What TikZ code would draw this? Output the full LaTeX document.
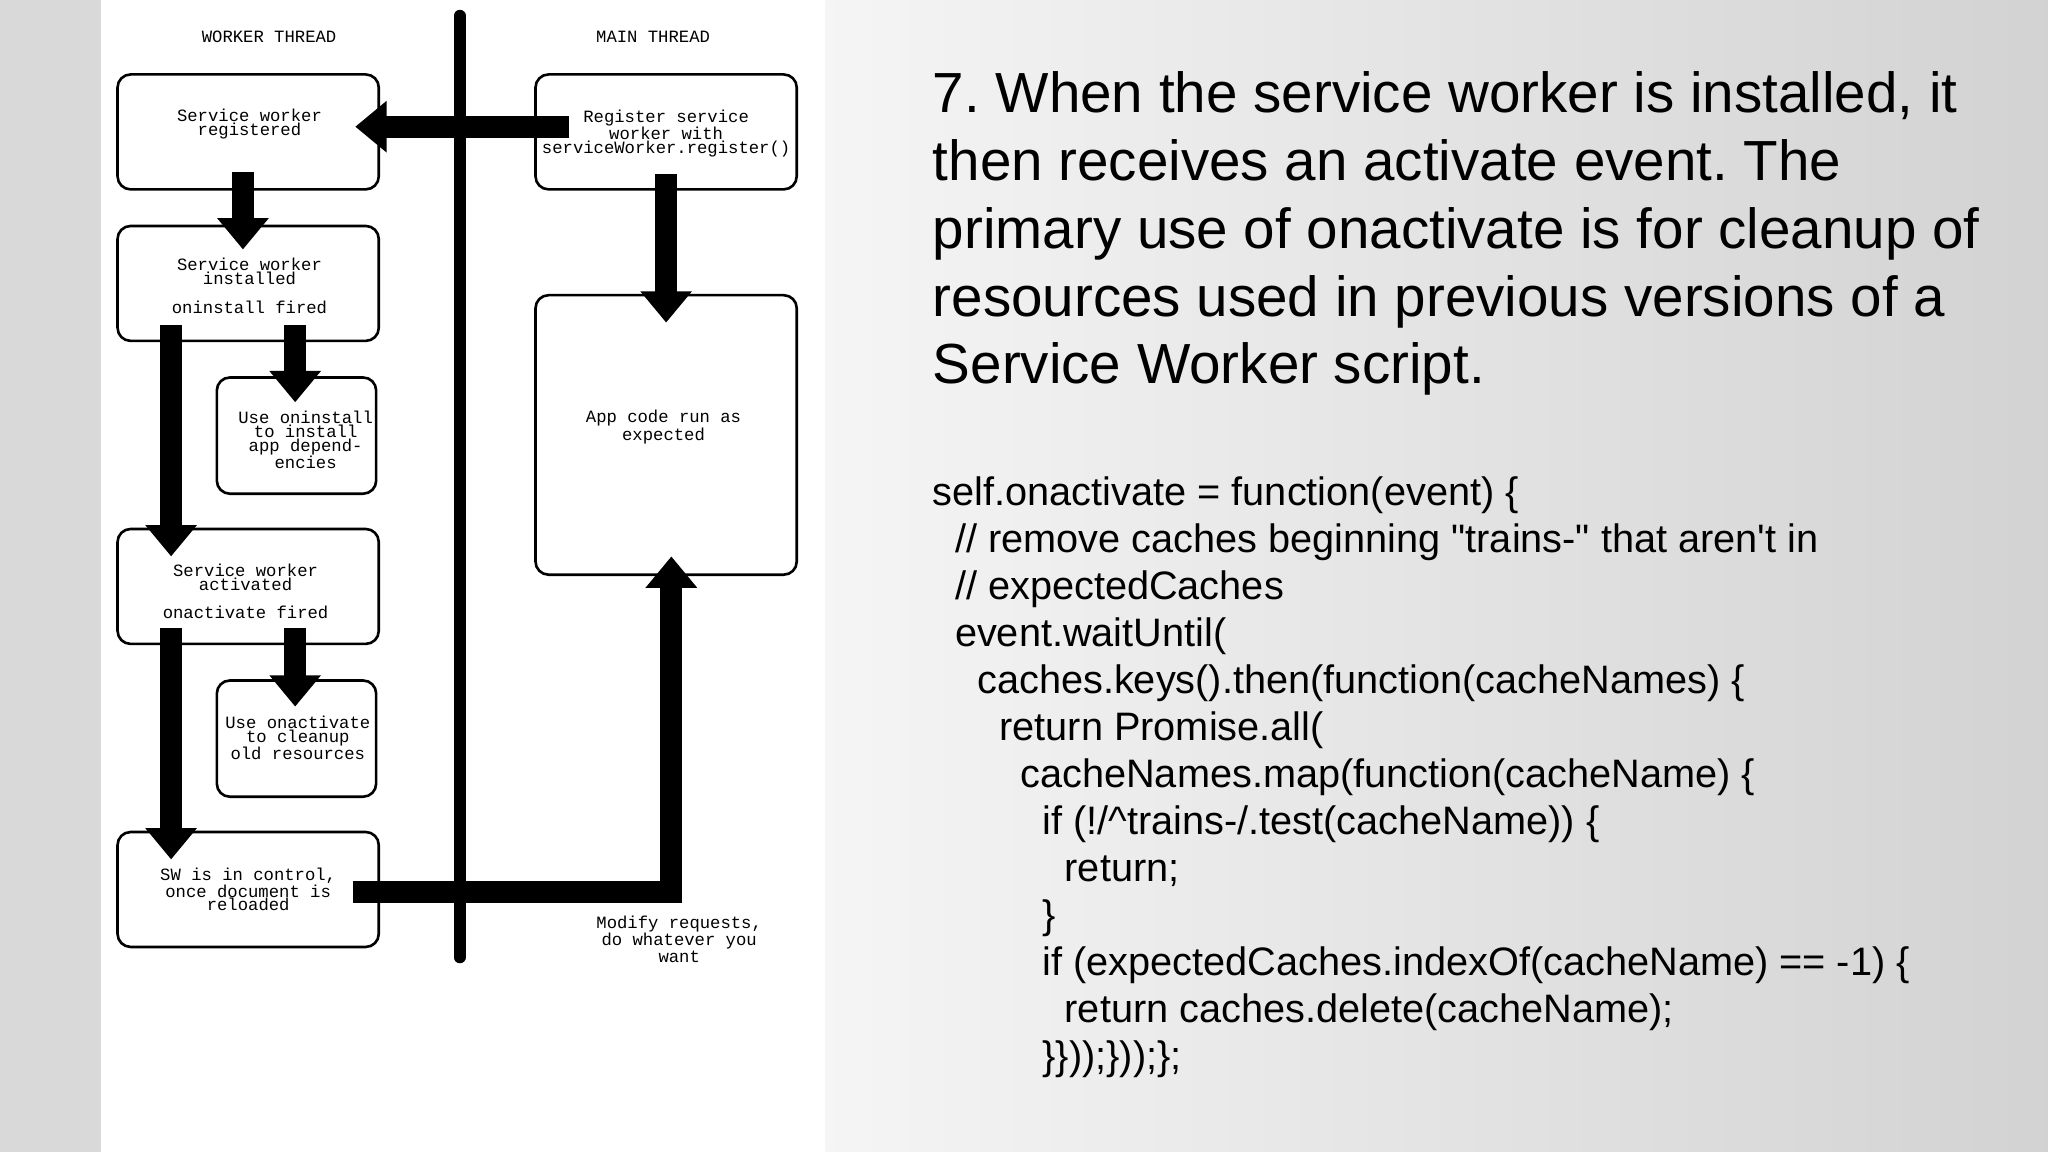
\documentclass[tikz,border=0pt]{standalone}
\usepackage{fontspec}
\setmainfont{Liberation Sans}[Ligatures=TeXOff]
\newfontfamily\dmono{Liberation Mono}
\usetikzlibrary{arrows.meta}
\frenchspacing
\begin{document}
\begin{tikzpicture}[x=1pt,y=-1pt,
  box/.style={draw,line width=2pt,rounded corners=10pt},
  lbl/.style={font=\dmono\fontsize{13.2}{10.5}\selectfont,align=center,inner sep=0pt},
  big/.style={line width=17pt,-{Triangle[width=38pt,length=24pt]}},
  ttl/.style={anchor=base west,font=\fontsize{43.3}{50}\selectfont,inner sep=0pt},
  code/.style={anchor=base west,font=\fontsize{30.4}{36}\selectfont,inner sep=0pt}]
\useasboundingbox (0,0) rectangle (1568,882);
\fill[gray!30] (0,0) rectangle (77,882);
\fill[white] (77,0) rectangle (632,882);
\shade[left color=gray!8,right color=gray!35] (632,0) rectangle (1568,882);
% headings
\node[lbl] (wt) at (206,28) {WORKER THREAD};
\node[lbl] (mt) at (500,28) {MAIN THREAD};
\coordinate (vt) at (352,12); \coordinate (vb) at (352,733);
\draw[line width=9pt,line cap=round] (vt) -- (vb);
% boxes
\draw[box] (90,57) rectangle (290,145);
\node[lbl] (b1) at (191,95) {Service worker\\registered};
\draw[box] (410,57) rectangle (610,145);
\node[lbl] (r) at (510,102) {Register service\\worker with\\serviceWorker.register()};
\draw[box] (90,173) rectangle (290,261);
\node[lbl] (b2) at (191,208) {Service worker\\installed};
\node[lbl] (b2b) at (191,235) {oninstall fired};
\draw[box] (166,289) rectangle (288,378);
\node[lbl] (b3) at (234,337) {Use oninstall\\to install\\app depend-\\encies};
\draw[box] (90,405) rectangle (290,493);
\node[lbl] (b4) at (188,442) {Service worker\\activated};
\node[lbl] (b4b) at (188,469) {onactivate fired};
\draw[box] (166,521) rectangle (288,610);
\node[lbl] (b5) at (228,565) {Use onactivate\\to cleanup\\old resources};
\draw[box] (90,637) rectangle (290,725);
\node[lbl] (b6) at (190,681) {SW is in control,\\once document is\\reloaded};
\draw[box] (410,226) rectangle (610,440);
\node[lbl] (m) at (508,327) {App code run as\\expected};
\node[lbl] (mod) at (520,719) {Modify requests,\\do whatever you\\want};
% arrows
\coordinate (a1s) at (436,97); \coordinate (a1e) at (272,97);
\draw[big] (a1s) -- (a1e);
\coordinate (a2s) at (186,132); \coordinate (a2e) at (186,191);
\draw[big] (a2s) -- (a2e);
\coordinate (a3s) at (226,249); \coordinate (a3e) at (226,308);
\draw[big] (a3s) -- (a3e);
\coordinate (a4s) at (131,249); \coordinate (a4e) at (131,426);
\draw[big] (a4s) -- (a4e);
\coordinate (a5s) at (226,481); \coordinate (a5e) at (226,541);
\draw[big] (a5s) -- (a5e);
\coordinate (a6s) at (131,481); \coordinate (a6e) at (131,658);
\draw[big] (a6s) -- (a6e);
\coordinate (a7s) at (510,133); \coordinate (a7e) at (510,247);
\draw[big] (a7s) -- (a7e);
\coordinate (a8s) at (270,683); \coordinate (a8e) at (514,426);
\draw[big] (a8s) -- (514,683) -- (a8e);
% title
\node[ttl] (t1) at (714,86) {7. When the service worker is installed, it};
\node[ttl] (t2) at (714,138) {then receives an activate event. The};
\node[ttl] (t3) at (714,190) {primary use of onactivate is for cleanup of};
\node[ttl] (t4) at (714,242) {resources used in previous versions of a};
\node[ttl] (t5) at (714,294) {Service Worker script.};
% code
\node[code] (c1) at (714,387) {self.onactivate = function(event) \{};
\node[code] (c2) at (731,423) {// remove caches beginning "trains-" that aren't in};
\node[code] (c3) at (731,459) {// expectedCaches};
\node[code] (c4) at (731,495) {event.waitUntil(};
\node[code] (c5) at (748,531) {caches.keys().then(function(cacheNames) \{};
\node[code] (c6) at (765,567) {return Promise.all(};
\node[code] (c7) at (781,603) {cacheNames.map(function(cacheName) \{};
\node[code] (c8) at (798,639) {if (!/\symbol{94}trains-/.test(cacheName)) \{};
\node[code] (c9) at (815,675) {return;};
\node[code] (c10) at (798,711) {\}};
\node[code] (c11) at (798,747) {if (expectedCaches.indexOf(cacheName) == -1) \{};
\node[code] (c12) at (815,783) {return caches.delete(cacheName);};
\node[code] (c13) at (798,819) {\}\}));\}));\};};
\end{tikzpicture}
\end{document}
